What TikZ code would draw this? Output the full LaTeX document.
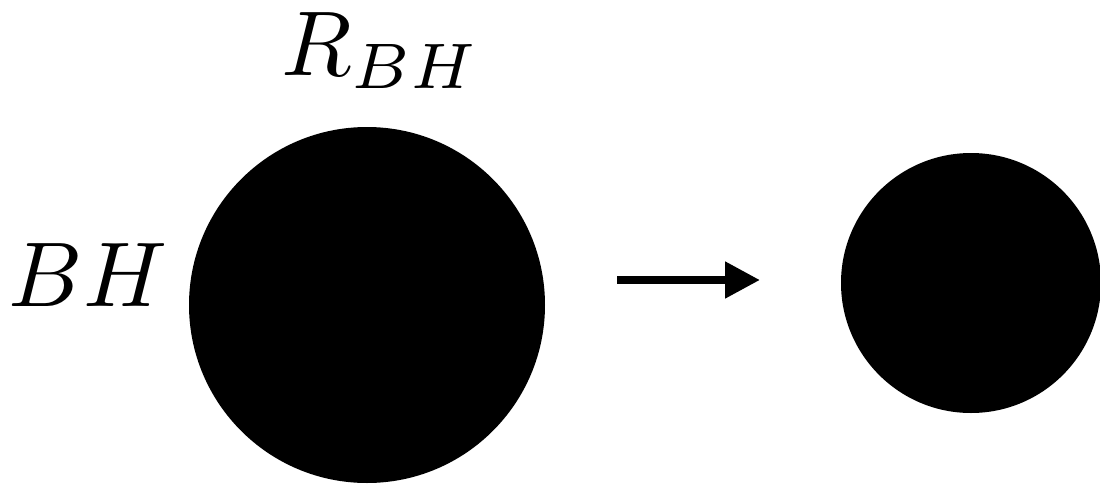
\documentclass[tikz,border=0pt]{standalone}
\usepackage{graphicx}
\usetikzlibrary{arrows.meta}
\begin{document}
\begin{tikzpicture}[x=0.5pt,y=-0.5pt,
  hole/.style={circle,fill=black,draw=none,inner sep=0pt},
  lbl/.style={inner sep=0pt,anchor=base},
  flow/.style={line width=4pt,-{Triangle[length=17.5pt,width=17.5pt]}}]
\useasboundingbox (0,0) rectangle (1100,483);
\node[hole,minimum size=178pt] (big) at (367,305) {};
\node[hole,minimum size=130pt] (small) at (971,283) {};
\node[lbl] (rbh) at (381,75) {\scalebox{4.6}{$R_{BH}$}};
\node[lbl] (bh) at (88,306) {\scalebox{4.6}{$BH$}};
\coordinate (a0) at (617,280);
\coordinate (a1) at (760,280);
\draw[flow] (a0) -- (a1);
\end{tikzpicture}
\end{document}
